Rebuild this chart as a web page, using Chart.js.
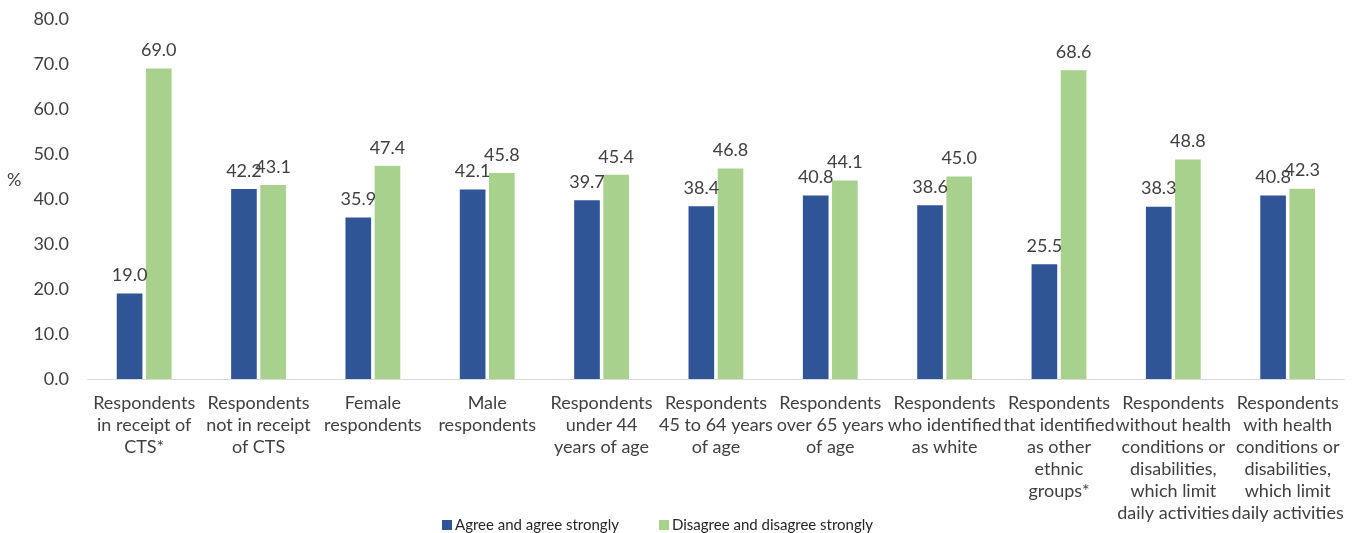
<!DOCTYPE html>
<html>
<head>
<meta charset="utf-8">
<script src="https://cdn.jsdelivr.net/npm/chart.js@4/dist/chart.umd.min.js"></script>
<style>
  html,body{margin:0;padding:0;background:#fff;overflow:hidden;}
  #wrap{width:1357px;height:533px;position:relative;}
</style>
</head>
<body>
<div id="wrap"><canvas id="chart"></canvas></div>
<script>
// categories (multi-line tick labels)
const categories = [
  ["Respondents","in receipt of","CTS*"],
  ["Respondents","not in receipt","of CTS"],
  ["Female","respondents"],
  ["Male","respondents"],
  ["Respondents","under 44","years of age"],
  ["Respondents","45 to 64 years","of age"],
  ["Respondents","over 65 years","of age"],
  ["Respondents","who identified","as white"],
  ["Respondents","that identified","as other","ethnic","groups*"],
  ["Respondents","without health","conditions or","disabilities,","which limit","daily activities"],
  ["Respondents","with health","conditions or","disabilities,","which limit","daily activities"]
];
const agree = [19.0, 42.2, 35.9, 42.1, 39.7, 38.4, 40.8, 38.6, 25.5, 38.3, 40.8];
const disagree = [69.0, 43.1, 47.4, 45.8, 45.4, 46.8, 44.1, 45.0, 68.6, 48.8, 42.3];
const seriesNames = ["Agree and agree strongly", "Disagree and disagree strongly"];
const yTicks = [0, 10, 20, 30, 40, 50, 60, 70, 80];

const FONT = "Lato, 'Open Sans', sans-serif";
const TXT = "#404040";

// value labels above bars
const valueLabels = {
  id: "valueLabels",
  afterDatasetsDraw(chart){
    const ctx = chart.ctx;
    ctx.save();
    ctx.font = "18px " + FONT;
    ctx.fillStyle = TXT;
    ctx.textAlign = "center";
    ctx.textBaseline = "bottom";
    chart.data.datasets.forEach((ds,i)=>{
      chart.getDatasetMeta(i).data.forEach((bar,j)=>{
        ctx.fillText(ds.data[j].toFixed(1), bar.x, bar.y - 9);
      });
    });
    ctx.restore();
  }
};

// "%" axis title and bottom legend
const extras = {
  id: "extras",
  afterDraw(chart){
    const ctx = chart.ctx;
    ctx.save();
    ctx.font = "18px " + FONT;
    ctx.fillStyle = TXT;
    ctx.textAlign = "left";
    ctx.textBaseline = "middle";
    ctx.fillText("%", 7, 180);
    // legend
    ctx.font = "15px " + FONT;
    const y = 525;
    let x = 442;
    chart.data.datasets.forEach(ds=>{
      ctx.fillStyle = ds.backgroundColor;
      ctx.fillRect(x, y-5, 10, 10);
      ctx.fillStyle = "#262626";
      ctx.fillText(ds.label, x + 13, y);
      x += 217;
    });
    ctx.restore();
  }
};

chart = new Chart(document.getElementById("chart"),{
  type:"bar",
  data:{
    labels:categories,
    datasets:[
      {label:seriesNames[0], data:agree, backgroundColor:"#2F5597"},
      {label:seriesNames[1], data:disagree, backgroundColor:"#A9D18E"}
    ]
  },
  options:{
    responsive:true,
    maintainAspectRatio:false,
    animation:false,
    layout:{padding:{top:19,right:6,left:0,bottom:0}},
    datasets:{bar:{categoryPercentage:0.51, barPercentage:0.88}},
    plugins:{legend:{display:false}, tooltip:{enabled:false}},
    scales:{
      x:{
        grid:{display:false, drawTicks:false},
        border:{display:true, color:"#d9d9d9", width:1},
        ticks:{
          autoSkip:false, maxRotation:0, minRotation:0, padding:13,
          color:TXT, font:{family:FONT, size:18, lineHeight:1.22}
        },
        afterFit(s){ s.height = 154; }
      },
      y:{
        min:0, max:80,
        afterBuildTicks(s){ s.ticks = yTicks.map(v=>({value:v})); },
        // invisible tick marks give the gap so the top padding stays small
        grid:{display:false, drawTicks:true, tickLength:18, tickColor:"rgba(0,0,0,0)"},
        border:{display:false},
        ticks:{
          padding:0, color:TXT, font:{family:FONT, size:18},
          callback:v=>v.toFixed(1)
        },
        afterFit(s){ s.width = 87; }
      }
    }
  },
  plugins:[valueLabels, extras]
});
</script>
</body>
</html>
